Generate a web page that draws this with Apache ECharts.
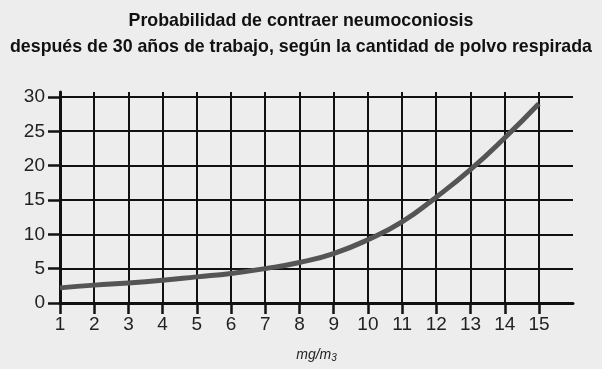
<!DOCTYPE html>
<html><head><meta charset="utf-8">
<script src="https://cdn.jsdelivr.net/npm/echarts@6/dist/echarts.min.js"></script>
<style>html,body{margin:0;padding:0;background:#ededed}#c{width:602px;height:369px}</style>
</head><body><div id="c"></div>
<script>
const titleLines = ['Probabilidad de contraer neumoconiosis', 'después de 30 años de trabajo, según la cantidad de polvo respirada'];
const xValues = [1,2,3,4,5,6,7,8,9,10,11,12,13,14,15];
const yValues = [2.2,2.6,2.9,3.3,3.8,4.3,5.0,5.9,7.2,9.2,11.8,15.4,19.4,24.0,29.0];
const xTickMin = 1, xTickMax = 15, xTickStep = 1;
const yTickMin = 0, yTickMax = 30, yTickStep = 5;
const xName = 'mg/m';
const xNameSub = '3';

const font = '"Liberation Sans", Arial, sans-serif';
const line = {color: '#111', width: 2};
const chart = echarts.init(document.getElementById('c'), null, {renderer:'canvas'});
chart.setOption({
  backgroundColor: '#ededed',
  animation: false,
  title: {
    text: titleLines.join('\n'),
    left: 'center', top: 3,
    textStyle: {fontFamily: font, fontWeight: 'bold', fontSize: 17.8, color: '#111', lineHeight: 26}
  },
  grid: [
    {left: 60, right: 29, top: 92, bottom: 66},
    {left: 60, width: 479, top: 97, bottom: 66}
  ],
  xAxis: [{
    gridIndex: 0, type: 'value', min: 1, max: 16, interval: 1,
    axisLine: {show: true, lineStyle: {color: '#111', width: 3}},
    axisTick: {show: false},
    axisLabel: {show: false},
    splitLine: {show: true, showMaxLine: false, lineStyle: line},
    name: '{a|' + xName + '}{b|' + xNameSub + '}',
    nameLocation: 'middle', nameGap: 44,
    nameTextStyle: {rich: {
      a: {fontFamily: font, fontStyle: 'italic', fontSize: 14, color: '#222'},
      b: {fontFamily: font, fontStyle: 'italic', fontSize: 10, color: '#222', verticalAlign: 'bottom', padding: [6,0,0,0]}
    }}
  }, {
    gridIndex: 1, type: 'value', min: xTickMin, max: xTickMax, interval: xTickStep,
    axisLine: {show: false},
    axisTick: {show: true, length: 11, lineStyle: {color: '#111', width: 2.5}},
    axisLabel: {fontFamily: font, fontSize: 19, color: '#222', margin: 12},
    splitLine: {show: false}
  }],
  yAxis: [{
    gridIndex: 0, type: 'value', min: 0, max: 30.7, interval: 5,
    axisLine: {show: true, lineStyle: {color: '#111', width: 3}},
    axisTick: {show: false},
    axisLabel: {show: false},
    splitLine: {show: true, showMaxLine: false, lineStyle: line}
  }, {
    gridIndex: 1, type: 'value', min: yTickMin, max: yTickMax, interval: yTickStep,
    axisLine: {show: false},
    axisTick: {show: true, length: 12, lineStyle: {color: '#111', width: 2.5}},
    axisLabel: {fontFamily: font, fontSize: 19, color: '#222', margin: 15},
    splitLine: {show: false}
  }],
  series: [{
    type: 'line',
    xAxisIndex: 0, yAxisIndex: 0,
    data: xValues.map((x, i) => [x, yValues[i]]),
    smooth: true,
    showSymbol: false,
    lineStyle: {color: '#555', width: 5, cap: 'butt'},
    z: 5
  }]
});
</script></body></html>
